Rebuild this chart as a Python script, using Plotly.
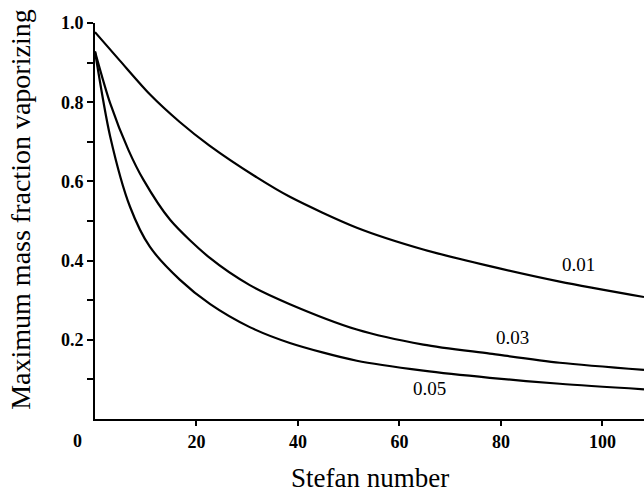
import plotly.graph_objects as go

# Stefan number samples and maximum mass fraction vaporizing for each curve
x_001 = [0, 4.9, 10.8, 16.7, 22.5, 31.9, 38.4, 51.6, 64.7, 77.8, 91.6, 108.2]
y_001 = [0.977, 0.905, 0.820, 0.750, 0.691, 0.610, 0.561, 0.483, 0.428, 0.386, 0.347, 0.308]

x_003 = [0, 3.0, 6.6, 9.5, 14.8, 22.7, 30.5, 38.4, 51.6, 64.7, 77.8, 91.6, 108.2]
y_003 = [0.928, 0.797, 0.679, 0.605, 0.503, 0.406, 0.338, 0.290, 0.226, 0.188, 0.165, 0.142, 0.124]

x_005 = [0, 3.0, 6.9, 10.8, 16.7, 22.7, 30.5, 38.4, 51.6, 64.7, 77.8, 91.6, 108.2]
y_005 = [0.928, 0.713, 0.536, 0.435, 0.352, 0.290, 0.232, 0.192, 0.147, 0.122, 0.104, 0.089, 0.075]

curve_labels = ["0.01", "0.03", "0.05"]
label_x = [95.2, 82.2, 66.0]
label_y = [0.389, 0.207, 0.078]

x_ticks = [20, 40, 60, 80, 100]
y_ticks = [0.2, 0.4, 0.6, 0.8, 1.0]
y_tick_text = ["0.2", "0.4", "0.6", "0.8", "1.0"]

serif = "Liberation Serif, Times New Roman, serif"

fig = go.Figure()
for xs, ys in [(x_001, y_001), (x_003, y_003), (x_005, y_005)]:
    fig.add_trace(go.Scatter(x=xs, y=ys, mode="lines",
                             line=dict(color="black", width=2.2, shape="spline", smoothing=0.8),
                             showlegend=False, cliponaxis=False))

for t, lx, ly in zip(curve_labels, label_x, label_y):
    fig.add_annotation(x=lx, y=ly, text=t, showarrow=False,
                       font=dict(family=serif, size=19, color="black"))

fig.add_annotation(x=0, y=0, xref="x", yref="y", text="<b>0</b>", showarrow=False,
                   xshift=-18, yshift=-22, font=dict(family=serif, size=18, color="black"))

fig.add_annotation(x=-0.135, y=0.528, xref="paper", yref="paper", xanchor="center", yanchor="middle",
                   text="Maximum mass fraction vaporizing", textangle=-90, showarrow=False,
                   font=dict(family=serif, size=28, color="black"))
fig.add_annotation(x=0.501, y=-0.149, xref="paper", yref="paper", xanchor="center", yanchor="middle",
                   text="Stefan number", showarrow=False,
                   font=dict(family=serif, size=27, color="black"))

fig.update_xaxes(range=[0, 108.2], tickvals=x_ticks, ticktext=["<b>%d</b>" % v for v in x_ticks],
                 ticks="outside", ticklen=5, tickwidth=2, tickcolor="black",
                 showline=True, linecolor="black", linewidth=2, showgrid=False, zeroline=False,
                 tickfont=dict(family=serif, size=18, color="black"))
fig.update_yaxes(range=[0, 1.0], tickvals=y_ticks, ticktext=["<b>%s</b>" % s for s in y_tick_text],
                 ticks="outside", ticklen=6, tickwidth=2, tickcolor="black",
                 minor=dict(tickvals=[0.1, 0.3, 0.5, 0.7, 0.9], ticks="outside", ticklen=6,
                            tickwidth=2, tickcolor="black"),
                 showline=True, linecolor="black", linewidth=2, showgrid=False, zeroline=False,
                 tickfont=dict(family=serif, size=18, color="black"))

fig.update_layout(width=644, height=496, margin=dict(l=95, r=0, t=23, b=77),
                  plot_bgcolor="white", paper_bgcolor="white")
fig.write_html("out.html")
